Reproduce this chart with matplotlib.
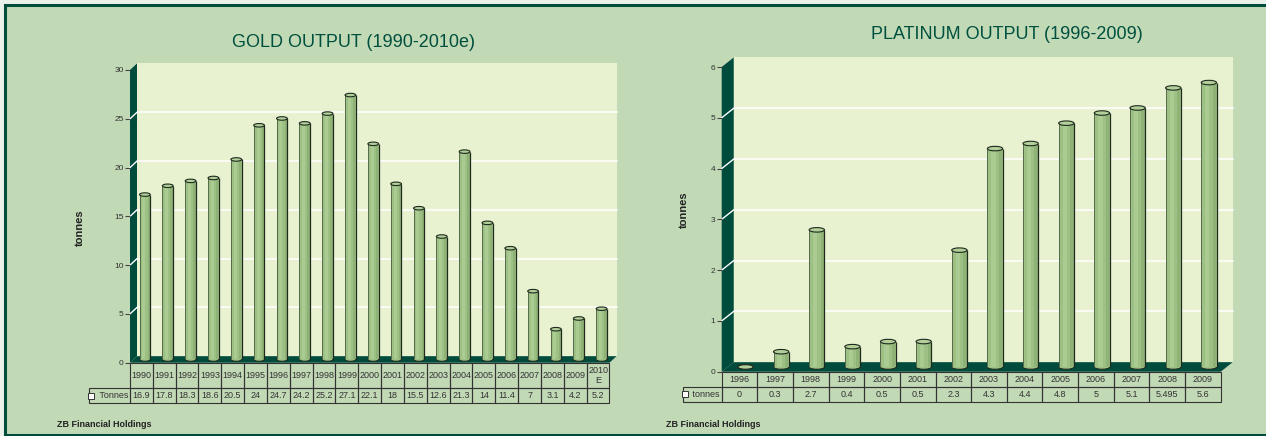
import matplotlib
matplotlib.use('Agg')
import matplotlib.pyplot as plt
from matplotlib.patches import Rectangle, Polygon, Ellipse
from matplotlib.lines import Line2D
from matplotlib.transforms import offset_copy, IdentityTransform
import numpy as np

plt.rcParams['font.family'] = ['Liberation Sans', 'DejaVu Sans']

# ---------------- data ----------------
gold_years = ['1990', '1991', '1992', '1993', '1994', '1995', '1996', '1997',
              '1998', '1999', '2000', '2001', '2002', '2003', '2004', '2005',
              '2006', '2007', '2008', '2009', '2010\nE']
gold_tonnes = [16.9, 17.8, 18.3, 18.6, 20.5, 24, 24.7, 24.2, 25.2, 27.1, 22.1,
               18, 15.5, 12.6, 21.3, 14, 11.4, 7, 3.1, 4.2, 5.2]
gold_yticks = [0, 5, 10, 15, 20, 25, 30]

plat_years = ['1996', '1997', '1998', '1999', '2000', '2001', '2002', '2003',
              '2004', '2005', '2006', '2007', '2008', '2009']
plat_tonnes = [0, 0.3, 2.7, 0.4, 0.5, 0.5, 2.3, 4.3, 4.4, 4.8, 5, 5.1, 5.495, 5.6]
plat_yticks = [0, 1, 2, 3, 4, 5, 6]

gold_title = 'GOLD OUTPUT (1990-2010e)'
plat_title = 'PLATINUM OUTPUT (1996-2009)'
source = 'ZB Financial Holdings'

# ---------------- style ----------------
PANEL = '#C2D9B6'
WALL = '#E8F2D0'
DARK = '#004C3C'
TITLE = '#00503F'
BAR = '#9DC184'
BAR_LIGHT = '#AACB92'
BAR_SHADE = '#8FB377'
CAP = '#B2CF9A'
EDGE = '#1E2A1E'
TXT = '#333333'

W, H = 1266, 436
fig = plt.figure(figsize=(W / 100, H / 100), dpi=100)
fig.patch.set_facecolor('#EAF0EA')
fig.patches.append(Rectangle((4.8 / W, 1.3 / H), 1.2, (H - 4.8 - 1.3) / H,
                             transform=fig.transFigure, facecolor=PANEL,
                             edgecolor=DARK, lw=2.2, zorder=-5))


def px_axes(left, right, top, bottom):
    return fig.add_axes([left / W, (H - bottom) / H, (right - left) / W, (bottom - top) / H])


def draw_chart(ax, cats, vals, yticks, dx, dy, bar_frac, cap_px,
               hdr_h, val_h, lbl_w, legend_text):
    n = len(cats)
    ymax = yticks[-1]
    ax.set_xlim(-0.5, n - 0.5)
    ax.set_ylim(0, ymax)
    ax.set_facecolor('none')
    for s in ax.spines.values():
        s.set_visible(False)
    ax.set_xticks([])
    ax.set_yticks(yticks)
    ax.tick_params(axis='y', length=3.5, width=0.8, color='#444444',
                   labelsize=6, labelcolor=TXT, pad=1)

    bbox = ax.get_position()
    ax_w_px = bbox.width * W
    ax_h_px = bbox.height * H

    back = offset_copy(ax.transData, fig=fig, x=dx, y=dy, units='dots')
    mid = offset_copy(ax.transData, fig=fig, x=dx / 2, y=dy / 2, units='dots')

    # back wall
    ax.add_patch(Rectangle((-0.5, 0), n, ymax, transform=back, facecolor=WALL,
                           edgecolor='none', zorder=0.5, clip_on=False))
    for t in yticks[1:-1]:
        ax.add_line(Line2D([-0.5, n - 0.5], [t, t], transform=back, color='white',
                           lw=1.1, zorder=0.8, clip_on=False))

    def d(x, y, k):
        px, py = ax.transData.transform((x, y))
        return (px + k * dx, py + k * dy)

    left_wall = [d(-0.5, 0, 0), d(-0.5, ymax, 0), d(-0.5, ymax, 1), d(-0.5, 0, 1)]
    floor = [d(-0.5, 0, 0), d(n - 0.5, 0, 0), d(n - 0.5, 0, 1), d(-0.5, 0, 1)]
    for poly in (left_wall, floor):
        ax.add_patch(Polygon(poly, closed=True, transform=IdentityTransform(),
                             facecolor=DARK, edgecolor='none', zorder=1, clip_on=False))
    for t in yticks[1:-1]:
        p0, p1 = d(-0.5, t, 0), d(-0.5, t, 1)
        ax.add_line(Line2D([p0[0], p1[0]], [p0[1], p1[1]], transform=IdentityTransform(),
                           color='white', lw=1.0, zorder=1.2, clip_on=False))

    # cylinders
    x = np.arange(n)
    vals = np.asarray(vals, dtype=float)
    ppu = ax.transData.transform((0, 1))[1] - ax.transData.transform((0, 0))[1]
    cap_h = cap_px / ppu
    bw = bar_frac
    for xi, v in zip(x, vals):
        ax.add_patch(Ellipse((xi, 0), bw, cap_h, transform=mid, facecolor=BAR,
                             edgecolor=EDGE, lw=0.7, zorder=2.9, clip_on=False))
    ax.bar(x, vals, width=bw, color=BAR, edgecolor='none', transform=mid, zorder=3, clip_on=False)
    ax.bar(x - bw * 0.1, vals, width=bw * 0.28, color=BAR_LIGHT, edgecolor='none',
           transform=mid, zorder=3.05, clip_on=False)
    ax.bar(x + bw * 0.36, vals, width=bw * 0.22, color=BAR_SHADE, edgecolor='none',
           transform=mid, zorder=3.05, clip_on=False)
    ax.vlines(x + bw / 2, 0, vals, transform=mid, color=EDGE, lw=0.9, zorder=3.2, clip_on=False)
    ax.vlines(x - bw / 2, 0, vals, transform=mid, color='#56694C', lw=0.7, zorder=3.2, clip_on=False)
    for xi, v in zip(x, vals):
        ax.add_patch(Ellipse((xi, v), bw, cap_h, transform=mid, facecolor=CAP,
                             edgecolor=EDGE, lw=0.8, zorder=3.5, clip_on=False))

    # data table
    cell_text = [[f'{v:g}' for v in vals]]
    tot = (hdr_h + val_h) / ax_h_px
    tbl = ax.table(cellText=cell_text, colLabels=cats, rowLabels=['   ' + legend_text],
                   cellLoc='center', rowLoc='left', bbox=[0, -tot, 1, tot])
    tbl.auto_set_font_size(False)
    tbl.set_fontsize(6.5)
    for (r, c), cell in tbl.get_celld().items():
        cell.set_edgecolor('#333333')
        cell.set_linewidth(0.8)
        cell.set_facecolor('none')
        cell.get_text().set_color(TXT)
        cell.set_width(lbl_w / ax_w_px if c == -1 else 1 / n)
        cell.set_height((hdr_h if r == 0 else val_h) / ax_h_px)
        cell.PAD = 0.06
    # legend key (white square) inside the row-label cell
    ax.plot([(-lbl_w + 5) / ax_w_px], [-(hdr_h + val_h / 2) / ax_h_px], marker='s',
            markersize=4, markerfacecolor='white', markeredgecolor='#333333',
            markeredgewidth=0.7, linestyle='none', transform=ax.transAxes,
            clip_on=False, zorder=5)
    return ax


# ---------------- gold ----------------
ax1 = px_axes(130, 609.5, 70, 362.7)
draw_chart(ax1, gold_years, gold_tonnes, gold_yticks, dx=7, dy=6.5, bar_frac=0.47,
           cap_px=3.5, hdr_h=25.6, val_h=15, lbl_w=44, legend_text='Tonnes')
fig.text(354 / W, (H - 46.7) / H, gold_title, ha='center', va='baseline',
         fontsize=13, color=TITLE)
fig.text(80 / W, (H - 228) / H, 'tonnes', rotation=90, ha='center', va='center',
         fontsize=8, weight='bold', color='#222222')
fig.text(56.7 / W, (H - 424) / H, source, ha='left', va='center', fontsize=6.5,
         weight='bold', color='#222222')

# ---------------- platinum ----------------
ax2 = px_axes(721.7, 1220.7, 67, 371.7)
draw_chart(ax2, plat_years, plat_tonnes, plat_yticks, dx=12, dy=9.5, bar_frac=0.43,
           cap_px=4.5, hdr_h=15, val_h=15, lbl_w=41.7, legend_text='tonnes')
fig.text(1007 / W, (H - 39.3) / H, plat_title, ha='center', va='baseline',
         fontsize=13, color=TITLE)
fig.text(684 / W, (H - 210) / H, 'tonnes', rotation=90, ha='center', va='center',
         fontsize=8, weight='bold', color='#222222')
fig.text(666 / W, (H - 424) / H, source, ha='left', va='center', fontsize=6.5,
         weight='bold', color='#222222')

fig.savefig('out.png', dpi=100, facecolor=fig.get_facecolor())
